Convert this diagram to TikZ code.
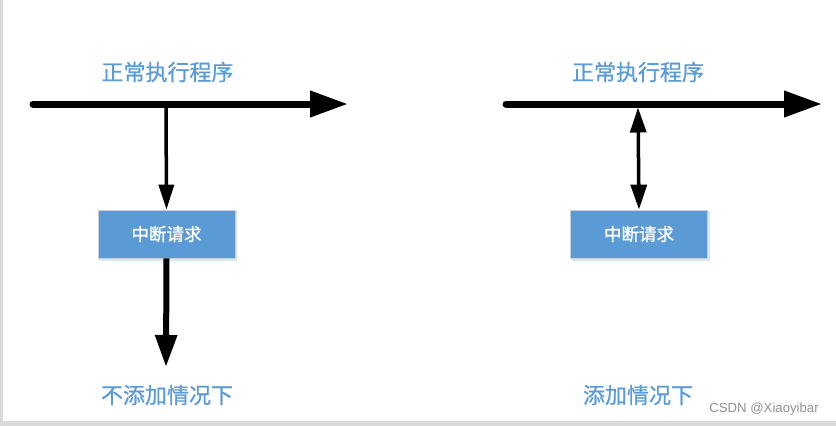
\documentclass[tikz,border=0pt]{standalone}
\usepackage{fontspec}
\setmainfont{Liberation Sans}
\newfontfamily\cjk[FakeBold=0.7]{Noto Sans CJK SC}
\newfontfamily\cjkbox[FakeBold=1.2]{Noto Sans CJK SC}
\usetikzlibrary{arrows.meta}
\definecolor{boxblue}{HTML}{5B9BD5}
\definecolor{textblue}{HTML}{5B9BD5}
\definecolor{edgegray}{HTML}{D9D9D9}
\definecolor{boxline}{HTML}{C9CED6}
\definecolor{shadowc}{HTML}{DCE6F2}
\begin{document}
\begin{tikzpicture}[x=1pt,y=-1pt,
  mainline/.style={line width=7pt,line cap=round,-{Triangle[length=38pt,width=25pt]}},
  thinarrow/.style={line width=3.5pt,-{Triangle[length=25pt,width=15pt]}},
  dblarrow/.style={line width=3.5pt,{Triangle[length=25pt,width=16pt]}-{Triangle[length=25pt,width=16pt]}},
  thickarrow/.style={line width=6pt,-{Triangle[length=32pt,width=21pt]}},
  reqbox/.style={draw=boxline,line width=0.8pt,fill=boxblue,text=white,minimum width=137pt,minimum height=48pt,inner sep=0pt,font=\cjkbox\fontsize{17.5}{20}\selectfont},
  title/.style={text=textblue,font=\cjk\fontsize{22}{26}\selectfont,inner sep=0pt}]
\useasboundingbox (0,0) rectangle (836,426);
\fill[white] (0,0) rectangle (836,426);
% page edges
\fill[edgegray] (0,0) rectangle (2.5,426);
\fill[edgegray] (0,421) rectangle (836,426);

% ---------- left diagram ----------
\node[title] (t1) at (167.5,72) {正常执行程序};
\coordinate (a0) at (33,104);
\coordinate (a1) at (348,104);
\coordinate (aj) at (166,104);
\fill[shadowc] (99,211) rectangle (237,261);
\node[reqbox] (b1) at (166.5,234) {中断请求};
\coordinate (ae) at (166,367);
\node[title] (t2) at (167,395) {不添加情况下};
\draw[thinarrow] (aj) -- (b1.north);
\draw[thickarrow] (b1.south) -- (ae);
\draw[mainline] (a0) -- (a1);

% ---------- right diagram ----------
\node[title] (t3) at (638,72) {正常执行程序};
\coordinate (c0) at (506,104);
\coordinate (c1) at (822,104);
\coordinate (cj) at (638,107.5);
\fill[shadowc] (572,211) rectangle (710,261);
\node[reqbox] (b2) at (639,234) {中断请求};
\node[title] (t4) at (638,395) {添加情况下};
\draw[dblarrow] (cj) -- (b2.north);
\draw[mainline] (c0) -- (c1);

% watermark
\node[text=gray!85,font=\fontsize{13.2}{15}\selectfont,inner sep=0pt] (wm) at (764,409) {CSDN @Xiaoyibar};
\end{tikzpicture}
\end{document}
